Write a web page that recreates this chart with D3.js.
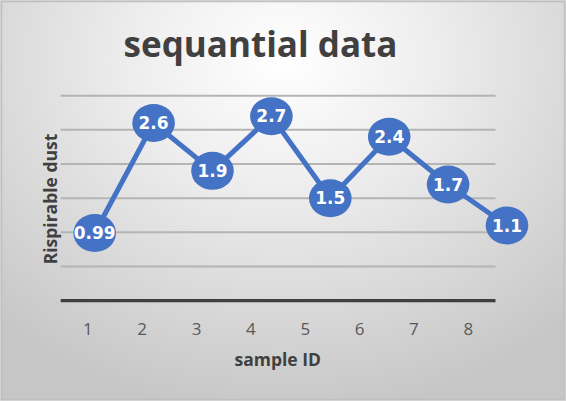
<!DOCTYPE html>
<html><head><meta charset="utf-8">
<script src="https://cdn.jsdelivr.net/npm/d3@7"></script>
<style>html,body{margin:0;padding:0;background:#fff;}svg{display:block;}</style>
</head><body>
<script>
const categories = ["1","2","3","4","5","6","7","8"];
const values = [0.99, 2.6, 1.9, 2.7, 1.5, 2.4, 1.7, 1.1];
const yTicks = [0, 0.5, 1, 1.5, 2, 2.5, 3];
const labels = ["0.99","2.6","1.9","2.7","1.5","2.4","1.7","1.1"];
const title = "sequantial data";
const xTitle = "sample ID";
const yTitle = "Rispirable dust";

const W = 566, H = 401;
const svg = d3.select("body").append("svg").attr("width", W).attr("height", H);
const defs = svg.append("defs");
const rg = defs.append("radialGradient").attr("id","bg")
  .attr("gradientUnits","userSpaceOnUse")
  .attr("cx", 283).attr("cy", 60).attr("r", 420)
  .attr("gradientTransform","translate(283,60) scale(1,0.85) translate(-283,-60)");
rg.append("stop").attr("offset","0%").attr("stop-color","#ffffff");
rg.append("stop").attr("offset","35%").attr("stop-color","#eeeeee");
rg.append("stop").attr("offset","100%").attr("stop-color","#c6c6c6");

svg.append("rect").attr("x",0).attr("y",0).attr("width",W).attr("height",H).attr("fill","#d9d9d9");
svg.append("rect").attr("x",1.5).attr("y",1.5).attr("width",W-3).attr("height",H-3)
  .attr("fill","url(#bg)").attr("stroke","#bfbfbf").attr("stroke-width",1.5);

const plotL = 60.7, plotR = 495.5;
const y = d3.scaleLinear().domain([0,3]).range([300.7, 95.7]);
const xBand = d3.scaleBand().domain(categories).range([plotL, plotR]);
const xPt = d3.scalePoint().domain(categories).range([94.7, 507]);

// gridlines
svg.append("g").selectAll("line").data(yTicks.filter(d=>d>0)).join("line")
  .attr("x1", plotL).attr("x2", plotR)
  .attr("y1", d=>y(d)).attr("y2", d=>y(d))
  .attr("stroke","#b4b4b4").attr("stroke-width",2);

// x axis
const xAxis = svg.append("g").attr("transform",`translate(0,${y(0)})`)
  .call(d3.axisBottom(xBand).tickSize(0).tickPadding(0));
xAxis.select(".domain").attr("stroke","#3f3f3f").attr("stroke-width",3.2).attr("d",`M${plotL},0H${plotR}`);
xAxis.selectAll("text").attr("font-family","'Open Sans', sans-serif").attr("font-size",17)
  .attr("fill","#595959").attr("dy",null).attr("y",34.5);

// line
svg.append("path").datum(values)
  .attr("d", d3.line().x((d,i)=>xPt(categories[i])).y(d=>y(d)))
  .attr("fill","none").attr("stroke","#4472c4").attr("stroke-width",5).attr("stroke-linejoin","round");

// label ellipses
const g = svg.append("g").selectAll("g").data(values).join("g")
  .attr("transform",(d,i)=>`translate(${xPt(categories[i])},${y(d)})`);
g.append("ellipse").attr("rx",21.3).attr("ry",19).attr("fill","#4472c4");
g.append("text").text((d,i)=>labels[i]).attr("text-anchor","middle").attr("dy","0.36em")
  .attr("font-family","'DejaVu Sans', sans-serif").attr("font-weight","bold").attr("font-size",17)
  .attr("fill","#ffffff");

// titles
svg.append("text").text(title).attr("x",260.5).attr("y",57.3).attr("text-anchor","middle")
  .attr("font-family","'Open Sans', sans-serif").attr("font-weight","bold").attr("font-size",35)
  .attr("fill","#404040");
svg.append("text").text(xTitle).attr("x",277.7).attr("y",366).attr("text-anchor","middle")
  .attr("font-family","'Open Sans', sans-serif").attr("font-weight","bold").attr("font-size",17.5)
  .attr("fill","#404040");
svg.append("text").text(yTitle).attr("transform","translate(56.5,199) rotate(-90)").attr("text-anchor","middle")
  .attr("font-family","'Open Sans', sans-serif").attr("font-weight","bold").attr("font-size",17.5)
  .attr("fill","#404040");
</script>
</body></html>
